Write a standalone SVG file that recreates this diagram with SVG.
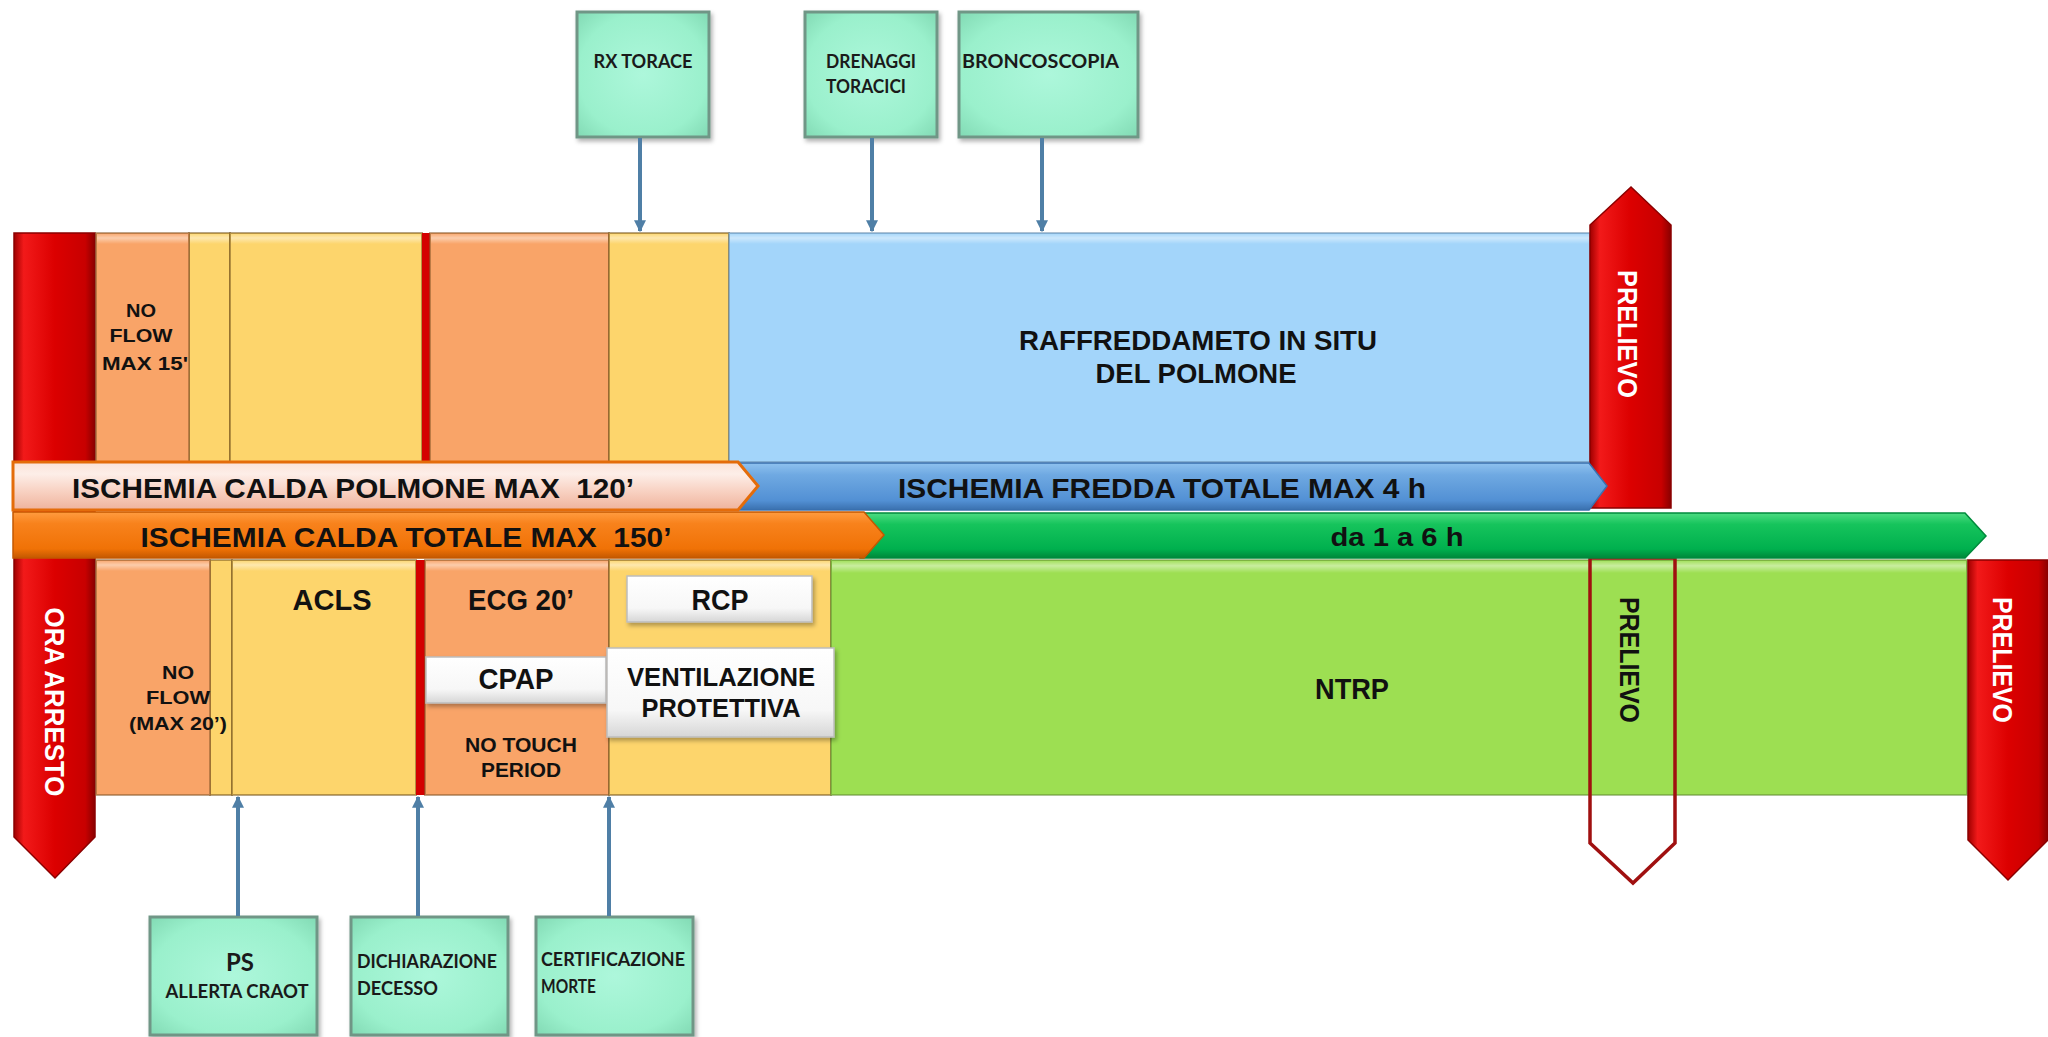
<svg xmlns="http://www.w3.org/2000/svg" width="2048" height="1037" viewBox="0 0 2048 1037">
<style>
  .t{font-family:"Liberation Sans",Arial,sans-serif;font-weight:bold;fill:#111;text-anchor:middle}
  .tw{font-family:"Liberation Sans",Arial,sans-serif;font-weight:bold;fill:#fff;text-anchor:middle}
  .c{font-family:Lato,"Open Sans",sans-serif;font-weight:bold;fill:#1a1a1a}
  .or{fill:#f9a468;stroke:#8a5a2a;stroke-opacity:.55;stroke-width:2}
  .ye{fill:#fdd56c;stroke:#7a5a20;stroke-opacity:.55;stroke-width:2}
  .bl{fill:#a3d5fa;stroke:#5f86a8;stroke-opacity:.5;stroke-width:2}
  .lg{fill:#9ddf52;stroke:#5f8a30;stroke-opacity:.5;stroke-width:2}
  .rl{fill:#d40000}
  .hi{fill:url(#gHi)}
  .red{fill:url(#gRed);stroke:#8a0000;stroke-width:1.5}
  .wb{fill:url(#gWhite);stroke:#bdbdbd;stroke-width:1.5;filter:url(#sh)}
  .teal{fill:url(#gTeal);stroke:#6f9686;stroke-width:3;filter:url(#sh)}
  .con{stroke:#4f7fa6;stroke-width:4;fill:none}
</style>
<defs>
  <linearGradient id="gRed" x1="0" y1="0" x2="1" y2="0">
    <stop offset="0" stop-color="#a00000"/><stop offset=".12" stop-color="#f21a1a"/>
    <stop offset=".5" stop-color="#dc0000"/><stop offset=".88" stop-color="#c80000"/>
    <stop offset="1" stop-color="#8a0000"/>
  </linearGradient>
  <linearGradient id="gHi" x1="0" y1="0" x2="0" y2="1">
    <stop offset="0" stop-color="#fff" stop-opacity=".1"/><stop offset=".4" stop-color="#fff" stop-opacity=".45"/>
    <stop offset="1" stop-color="#fff" stop-opacity="0"/>
  </linearGradient>
  <linearGradient id="gPink" x1="0" y1="0" x2="0" y2="1">
    <stop offset="0" stop-color="#fbe2d8"/><stop offset=".25" stop-color="#fdeee8"/>
    <stop offset=".6" stop-color="#f8d2c3"/><stop offset="1" stop-color="#efb39c"/>
  </linearGradient>
  <linearGradient id="gOrange" x1="0" y1="0" x2="0" y2="1">
    <stop offset="0" stop-color="#ff9c40"/><stop offset=".25" stop-color="#f8821c"/>
    <stop offset=".8" stop-color="#f07206"/><stop offset="1" stop-color="#c45800"/>
  </linearGradient>
  <linearGradient id="gBlue" x1="0" y1="0" x2="0" y2="1">
    <stop offset="0" stop-color="#8fc2ef"/><stop offset=".25" stop-color="#6fa9e2"/>
    <stop offset=".8" stop-color="#5290d4"/><stop offset="1" stop-color="#3a70ae"/>
  </linearGradient>
  <linearGradient id="gGreen" x1="0" y1="0" x2="0" y2="1">
    <stop offset="0" stop-color="#4ddc82"/><stop offset=".25" stop-color="#16c45c"/>
    <stop offset=".8" stop-color="#00b04e"/><stop offset="1" stop-color="#00873a"/>
  </linearGradient>
  <linearGradient id="gWhite" x1="0" y1="0" x2="0" y2="1">
    <stop offset="0" stop-color="#ffffff"/><stop offset=".7" stop-color="#f7f7f7"/>
    <stop offset="1" stop-color="#d6d6d6"/>
  </linearGradient>
  <radialGradient id="gTeal" cx=".5" cy=".5" r=".7">
    <stop offset="0" stop-color="#adf7db"/><stop offset=".7" stop-color="#9af0cc"/>
    <stop offset="1" stop-color="#82dab4"/>
  </radialGradient>
  <filter id="sh" x="-10%" y="-10%" width="130%" height="130%">
    <feDropShadow dx="2" dy="3" stdDeviation="2" flood-color="#000" flood-opacity=".3"/>
  </filter>
  <marker id="ah" viewBox="0 0 10 10" refX="9" refY="5" markerWidth="3" markerHeight="3" orient="auto">
    <path d="M0,0 L10,5 L0,10 Z" fill="#4f7fa6"/>
  </marker>
</defs>

<rect width="2048" height="1037" fill="#fff"/>

<g id="ora-arresto">
  <polygon class="red" points="14,233 95,233 95,837 55,878 14,837"/>
  <text class="tw" font-size="28" textLength="189" lengthAdjust="spacingAndGlyphs" transform="translate(55,702) rotate(90)" x="0" y="10">ORA ARRESTO</text>
</g>

<g id="top-columns">
  <g id="top-y1"><rect class="ye" x="189" y="233" width="41" height="229"/><rect class="hi" x="190" y="234" width="39" height="10"/></g>
  <g id="no-flow-15"><rect class="or" x="96" y="233" width="93" height="229"/><rect class="hi" x="97" y="234" width="91" height="10"/>
    <text class="t" font-size="19" x="141" y="317" textLength="30" lengthAdjust="spacingAndGlyphs">NO</text>
    <text class="t" font-size="19" x="141" y="342" textLength="63" lengthAdjust="spacingAndGlyphs">FLOW</text>
    <text class="t" font-size="19" x="145" y="370" textLength="86" lengthAdjust="spacingAndGlyphs">MAX 15'</text>
  </g>
  <g id="top-y2"><rect class="ye" x="230" y="233" width="192" height="229"/><rect class="hi" x="231" y="234" width="190" height="10"/></g>
  <rect class="rl" x="422" y="233" width="8" height="229"/>
  <g id="top-o2"><rect class="or" x="430" y="233" width="179" height="229"/><rect class="hi" x="431" y="234" width="177" height="10"/></g>
  <g id="top-y3"><rect class="ye" x="609" y="233" width="120" height="229"/><rect class="hi" x="610" y="234" width="118" height="10"/></g>
  <g id="raffreddamento"><rect class="bl" x="729" y="233" width="861" height="229"/><rect class="hi" x="730" y="234" width="859" height="10"/>
    <text class="t" font-size="28" x="1198" y="350" textLength="358" lengthAdjust="spacingAndGlyphs">RAFFREDDAMETO IN SITU</text>
    <text class="t" font-size="28" x="1196" y="383" textLength="201" lengthAdjust="spacingAndGlyphs">DEL POLMONE</text>
  </g>
</g>

<g id="prelievo-top">
  <polygon class="red" points="1590,225 1631,187 1671,225 1671,508 1590,508"/>
  <text class="tw" font-size="28" textLength="128" lengthAdjust="spacingAndGlyphs" transform="translate(1628,334) rotate(90)" x="0" y="10">PRELIEVO</text>
</g>

<g id="bottom-columns">
  <g id="bot-y1"><rect class="ye" x="210" y="560" width="22" height="235"/></g>
  <g id="no-flow-20"><rect class="or" x="96" y="560" width="114" height="235"/><rect class="hi" x="97" y="561" width="112" height="10"/>
    <text class="t" font-size="19" x="178" y="679" textLength="32" lengthAdjust="spacingAndGlyphs">NO</text>
    <text class="t" font-size="19" x="178" y="704" textLength="64" lengthAdjust="spacingAndGlyphs">FLOW</text>
    <text class="t" font-size="19" x="178" y="730" textLength="98" lengthAdjust="spacingAndGlyphs">(MAX 20’)</text>
  </g>
  <g id="acls"><rect class="ye" x="232" y="560" width="184" height="235"/><rect class="hi" x="233" y="561" width="182" height="10"/>
    <text class="t" font-size="29" x="332" y="610" textLength="79" lengthAdjust="spacingAndGlyphs">ACLS</text>
  </g>
  <rect class="rl" x="416" y="560" width="9" height="235"/>
  <g id="ecg"><rect class="or" x="425" y="560" width="184" height="235"/><rect class="hi" x="426" y="561" width="182" height="10"/>
    <text class="t" font-size="29" x="521" y="610" textLength="106" lengthAdjust="spacingAndGlyphs">ECG 20’</text>
    <text class="t" font-size="21" x="521" y="752" textLength="112" lengthAdjust="spacingAndGlyphs">NO TOUCH</text>
    <text class="t" font-size="21" x="521" y="777" textLength="80" lengthAdjust="spacingAndGlyphs">PERIOD</text>
  </g>
  <g id="bot-y3"><rect class="ye" x="609" y="560" width="222" height="235"/><rect class="hi" x="610" y="561" width="220" height="10"/></g>
  <g id="ntrp"><rect class="lg" x="831" y="560" width="1136" height="235"/><rect class="hi" x="832" y="561" width="1134" height="12"/>
    <text class="t" font-size="30" x="1352" y="699" textLength="74" lengthAdjust="spacingAndGlyphs">NTRP</text>
  </g>
</g>

<g id="prelievo-outline">
  <polygon points="1590,558 1675,558 1675,843 1633,883 1590,843" fill="none" stroke="#a01010" stroke-width="3.5"/>
  <text class="t" font-size="28" textLength="126" lengthAdjust="spacingAndGlyphs" transform="translate(1630,660) rotate(90)" x="0" y="10">PRELIEVO</text>
</g>

<g id="prelievo-right">
  <polygon class="red" points="1968,560 2048,560 2048,840 2008,880 1968,840"/>
  <text class="tw" font-size="28" textLength="126" lengthAdjust="spacingAndGlyphs" transform="translate(2003,660) rotate(90)" x="0" y="10">PRELIEVO</text>
</g>

<g id="da-1-a-6-h">
  <path d="M860,513 H1965 L1986,536 L1965,558 H860 Z" fill="url(#gGreen)" stroke="#008a3c" stroke-width="1.5"/>
  <text class="t" font-size="26" x="1397" y="546" textLength="133" lengthAdjust="spacingAndGlyphs">da 1 a 6 h</text>
</g>
<g id="ischemia-fredda">
  <path d="M729,463 H1589 L1607,486 L1589,510 H729 Z" fill="url(#gBlue)" stroke="#3a70ae" stroke-width="1.5"/>
  <text class="t" font-size="28" x="1162" y="498" textLength="528" lengthAdjust="spacingAndGlyphs">ISCHEMIA FREDDA TOTALE MAX 4 h</text>
</g>
<g id="ischemia-calda-totale">
  <path d="M13,512 H864 L884,535 L864,558 H13 Z" fill="url(#gOrange)" stroke="#c45800" stroke-width="1.5"/>
  <text class="t" font-size="28" x="406" y="547" textLength="531" lengthAdjust="spacingAndGlyphs" xml:space="preserve">ISCHEMIA CALDA TOTALE MAX  150’</text>
</g>
<g id="ischemia-calda-polmone">
  <path d="M13,462 H738 L758,486 L738,510 H13 Z" fill="url(#gPink)" stroke="#e46c0a" stroke-width="3"/>
  <text class="t" font-size="28" x="353" y="498" textLength="562" lengthAdjust="spacingAndGlyphs" xml:space="preserve">ISCHEMIA CALDA POLMONE MAX  120’</text>
</g>

<g id="rcp">
  <rect class="wb" x="627" y="576" width="185" height="46"/>
  <text class="t" font-size="29" x="720" y="610" textLength="57" lengthAdjust="spacingAndGlyphs">RCP</text>
</g>
<g id="cpap">
  <rect class="wb" x="426" y="657" width="180" height="46"/>
  <text class="t" font-size="30" x="516" y="689" textLength="75" lengthAdjust="spacingAndGlyphs">CPAP</text>
</g>
<g id="ventilazione">
  <rect class="wb" x="607" y="648" width="227" height="89"/>
  <text class="t" font-size="26" x="721" y="686" textLength="188" lengthAdjust="spacingAndGlyphs">VENTILAZIONE</text>
  <text class="t" font-size="26" x="721" y="717" textLength="159" lengthAdjust="spacingAndGlyphs">PROTETTIVA</text>
</g>

<g id="rx-torace">
  <rect class="teal" x="577" y="12" width="132" height="125"/>
  <text class="c" font-size="18" x="643" y="68" text-anchor="middle" textLength="99" lengthAdjust="spacingAndGlyphs">RX TORACE</text>
</g>
<g id="drenaggi">
  <rect class="teal" x="805" y="12" width="132" height="125"/>
  <text class="c" font-size="18" x="826" y="68" textLength="90" lengthAdjust="spacingAndGlyphs">DRENAGGI</text>
  <text class="c" font-size="18" x="826" y="93" textLength="80" lengthAdjust="spacingAndGlyphs">TORACICI</text>
</g>
<g id="broncoscopia">
  <rect class="teal" x="959" y="12" width="179" height="125"/>
  <text class="c" font-size="18" x="962" y="68" textLength="157" lengthAdjust="spacingAndGlyphs">BRONCOSCOPIA</text>
</g>
<g id="ps">
  <rect class="teal" x="150" y="917" width="167" height="118"/>
  <text class="c" font-size="25" x="240" y="971" text-anchor="middle" textLength="28" lengthAdjust="spacingAndGlyphs">PS</text>
  <text class="c" font-size="19" x="237" y="998" text-anchor="middle" textLength="143" lengthAdjust="spacingAndGlyphs">ALLERTA CRAOT</text>
</g>
<g id="dichiarazione">
  <rect class="teal" x="351" y="917" width="157" height="118"/>
  <text class="c" font-size="19" x="357" y="968" textLength="140" lengthAdjust="spacingAndGlyphs">DICHIARAZIONE</text>
  <text class="c" font-size="19" x="357" y="995" textLength="81" lengthAdjust="spacingAndGlyphs">DECESSO</text>
</g>
<g id="certificazione">
  <rect class="teal" x="536" y="917" width="157" height="118"/>
  <text class="c" font-size="19" x="541" y="966" textLength="144" lengthAdjust="spacingAndGlyphs">CERTIFICAZIONE</text>
  <text class="c" font-size="19" x="541" y="993" textLength="55" lengthAdjust="spacingAndGlyphs">MORTE</text>
</g>

<g id="connectors">
  <line class="con" x1="640" y1="138" x2="640" y2="231" marker-end="url(#ah)"/>
  <line class="con" x1="872" y1="138" x2="872" y2="231" marker-end="url(#ah)"/>
  <line class="con" x1="1042" y1="138" x2="1042" y2="231" marker-end="url(#ah)"/>
  <line class="con" x1="238" y1="916" x2="238" y2="797" marker-end="url(#ah)"/>
  <line class="con" x1="418" y1="916" x2="418" y2="797" marker-end="url(#ah)"/>
  <line class="con" x1="609" y1="916" x2="609" y2="797" marker-end="url(#ah)"/>
</g>
</svg>
